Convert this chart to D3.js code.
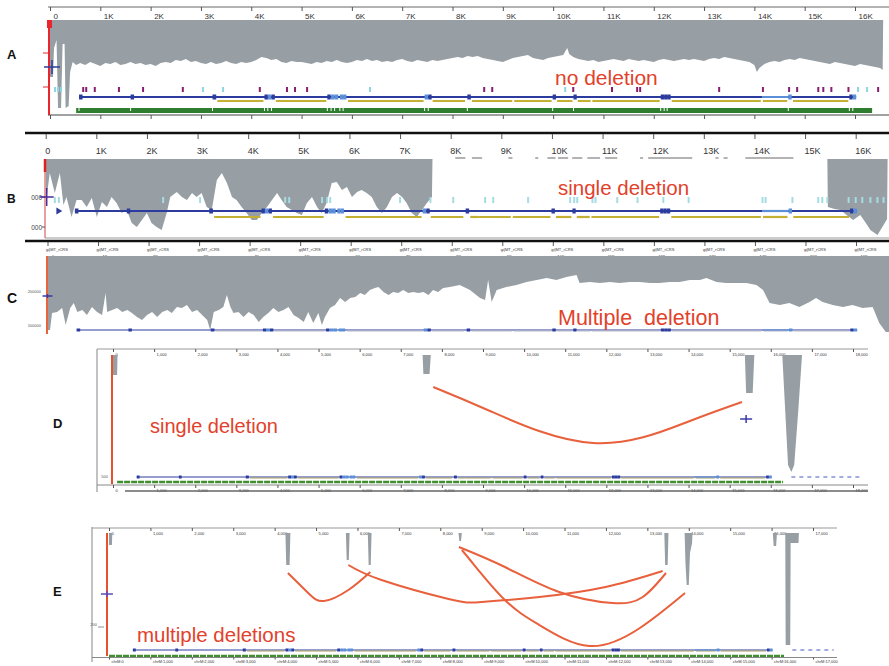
<!DOCTYPE html>
<html>
<head>
<meta charset="utf-8">
<title>mtDNA coverage</title>
<script src="https://cdn.jsdelivr.net/npm/d3@7/dist/d3.min.js"></script>
<style>
  body { margin: 0; background: #fff; }
  svg { display: block; }
</style>
</head>
<body>
<svg id="fig" width="889" height="666"></svg>
<script>
// ---- ticks ----
var kbTicks = [0, 1, 2, 3, 4, 5, 6, 7, 8, 9, 10, 11, 12, 13, 14, 15, 16];
var kbLabels = ['0', '1K', '2K', '3K', '4K', '5K', '6K', '7K', '8K', '9K', '10K', '11K', '12K', '13K', '14K', '15K', '16K'];
var dTicks = [0, 1, 2, 3, 4, 5, 6, 7, 8, 9, 10, 11, 12, 13, 14, 15, 16, 17, 18];
var eTicks = [0, 1, 2, 3, 4, 5, 6, 7, 8, 9, 10, 11, 12, 13, 14, 15, 16, 17];

// ---- coverage, [position kb, depth] ----
var covA = [[0,57],[0.06,57],[0.08,28],[0.13,20],[0.16,88],[0.22,88],[0.25,24],[0.29,24],[0.31,88],[0.37,86],[0.40,52],[0.45,42],
  [0.52,45],[0.6,43],[0.7,45],[0.8,42],[0.9,44],[1.0,46],[1.1,43],[1.2,44],[1.3,42],[1.4,45],[1.5,44],[1.6,42],[1.7,44],[1.8,43],
  [1.9,45],[2.0,44],[2.1,46],[2.2,43],[2.3,42],[2.4,43],[2.5,40],[2.6,41],[2.7,39],[2.8,42],[2.9,41],[3.0,43],[3.1,44],[3.2,42],
  [3.3,44],[3.4,43],[3.5,41],[3.6,43],[3.7,44],[3.8,42],[3.9,43],[4.0,42],[4.1,40],[4.2,37],[4.3,38],[4.4,40],[4.5,39],[4.6,42],
  [4.7,43],[4.8,41],[4.9,42],[5.0,42],[5.1,43],[5.2,44],[5.3,42],[5.4,43],[5.5,41],[5.6,42],[5.7,40],[5.8,42],[5.9,43],[6.0,42],
  [6.1,40],[6.2,41],[6.3,39],[6.4,41],[6.5,40],[6.6,42],[6.7,41],[6.8,42],[6.9,40],[7.0,39],[7.1,41],[7.2,42],[7.3,40],[7.4,41],
  [7.5,42],[7.6,40],[7.7,41],[7.8,40],[7.9,39],[8.0,38],[8.1,37],[8.2,38],[8.3,36],[8.4,37],[8.5,36],[8.6,38],[8.7,39],[8.8,40],
  [8.9,41],[9.0,42],[9.1,40],[9.2,38],[9.3,37],[9.4,36],[9.5,35],[9.6,38],[9.7,39],[9.8,40],[9.9,38],[10.0,37],[10.1,36],[10.2,35],
  [10.28,28],[10.32,34],[10.4,37],[10.5,39],[10.6,40],[10.7,41],[10.8,40],[10.9,42],[11.0,41],[11.1,40],[11.2,39],[11.3,40],
  [11.4,41],[11.5,39],[11.6,40],[11.7,41],[11.8,40],[11.9,41],[12.0,42],[12.1,40],[12.2,39],[12.3,40],[12.4,41],[12.5,40],
  [12.6,39],[12.7,40],[12.8,39],[12.9,40],[13.0,41],[13.1,39],[13.2,38],[13.3,39],[13.4,37],[13.5,38],[13.6,39],[13.7,40],
  [13.8,41],[13.9,42],[14.0,45],[14.05,52],[14.1,48],[14.2,44],[14.3,42],[14.4,41],[14.5,42],[14.6,40],[14.7,39],[14.8,40],
  [14.9,38],[15.0,39],[15.1,40],[15.2,41],[15.3,42],[15.4,43],[15.5,44],[15.6,42],[15.7,43],[15.8,44],[15.9,45],[16.0,46],
  [16.1,44],[16.2,45],[16.3,46],[16.4,47],[16.5,48],[16.55,50],[16.56,0]];

var covB = [[0,38],[0.02,38],[0.08,14],[0.18,34],[0.28,14],[0.35,46],[0.41,38],[0.51,58],[0.61,41],[0.71,41],[0.81,48],[0.91,39],
  [1.01,58],[1.11,43],[1.21,48],[1.30,38],[1.40,44],[1.50,54],[1.60,51],[1.70,64],[1.80,68],[1.90,61],[2.00,54],[2.09,64],
  [2.19,68],[2.29,71],[2.39,54],[2.46,38],[2.59,33],[2.69,38],[2.79,41],[2.89,34],[2.98,38],[3.08,34],[3.18,48],[3.28,51],
  [3.38,21],[3.48,14],[3.58,24],[3.68,38],[3.77,41],[3.87,48],[3.97,54],[4.07,61],[4.17,61],[4.27,54],[4.37,48],[4.47,41],
  [4.57,34],[4.66,41],[4.76,48],[4.86,51],[4.96,54],[5.06,56],[5.16,44],[5.26,38],[5.36,48],[5.45,54],[5.55,44],[5.65,24],
  [5.75,23],[5.85,31],[5.95,28],[6.05,38],[6.15,33],[6.24,31],[6.34,34],[6.44,38],[6.54,48],[6.64,54],[6.74,48],[6.84,38],
  [6.94,34],[7.04,38],[7.13,44],[7.23,54],[7.33,58],[7.43,51],[7.53,44],[7.63,38],[7.64,0],
  [15.44,0],[15.45,48],[15.58,50],[15.70,51],[15.82,56],[15.95,61],[16.09,56],[16.2,64],[16.29,71],[16.43,76],[16.55,66],[16.62,60],[16.63,0]];

// low-depth reads inside the deleted region, [start kb, end kb]
var covBLow = [[8.09,8.29],[8.42,8.62],[9.14,9.22],[9.67,9.73],[9.91,10.07],[10.12,10.32],[10.40,10.60],[10.70,10.95],
  [11.05,11.29],[11.74,11.80],[11.90,12.77],[13.23,13.29],[13.39,13.47],[13.82,14.77]];

var covC = [[0,74],[0.05,74],[0.09,57],[0.19,56],[0.29,52],[0.36,69],[0.45,52],[0.52,47],[0.59,56],[0.69,54],[0.78,59],[0.88,51],
  [0.98,56],[1.08,59],[1.15,37],[1.18,56],[1.28,54],[1.38,52],[1.48,56],[1.58,54],[1.67,57],[1.77,61],[1.87,64],[1.97,59],
  [2.07,56],[2.17,61],[2.27,56],[2.37,54],[2.46,57],[2.56,51],[2.66,52],[2.76,49],[2.86,56],[2.96,54],[3.06,59],[3.16,64],
  [3.22,74],[3.29,56],[3.39,54],[3.48,51],[3.55,39],[3.62,51],[3.68,57],[3.78,56],[3.88,61],[3.98,56],[4.08,59],[4.18,66],
  [4.27,61],[4.37,57],[4.47,52],[4.57,56],[4.67,54],[4.77,51],[4.87,59],[4.97,62],[5.07,66],[5.16,56],[5.26,67],[5.36,57],
  [5.43,69],[5.49,61],[5.59,52],[5.69,49],[5.79,42],[5.89,46],[5.99,42],[6.09,41],[6.19,37],[6.28,39],[6.38,34],[6.48,32],
  [6.55,31],[6.65,36],[6.75,39],[6.84,36],[6.94,37],[7.04,34],[7.14,37],[7.24,36],[7.34,37],[7.44,36],[7.54,39],[7.63,34],
  [7.73,36],[7.83,32],[7.96,31],[8.16,29],[8.36,34],[8.56,42],[8.66,44],[8.72,24],[8.79,46],[8.89,34],[9.08,31],[9.28,29],
  [9.48,26],[9.68,24],[9.88,22],[10.07,24],[10.27,21],[10.47,19],[10.53,27],[10.73,26],[10.93,27],[11.13,26],[11.32,27],
  [11.52,26],[11.72,26],[11.92,27],[12.11,27],[12.31,26],[12.51,26],[12.71,24],[12.91,24],[13.04,22],[13.24,26],[13.43,27],
  [13.63,27],[13.83,27],[14.03,29],[14.16,34],[14.29,47],[14.49,49],[14.68,47],[14.88,51],[15.08,46],[15.21,42],[15.34,46],
  [15.54,49],[15.74,51],[15.93,49],[16.13,52],[16.33,51],[16.46,67],[16.59,76],[16.66,76]];

var covD = [[0,20],[0.1,20],[0.11,0],[7.53,0],[7.55,19],[7.70,19],[7.73,0],[15.37,0],[15.40,38],[15.56,38],[15.60,0],
  [16.28,0],[16.35,55],[16.42,110],[16.50,117],[16.57,110],[16.67,55],[16.76,0]];

var covE = [[0,12],[0.07,12],[0.08,0],[4.26,0],[4.28,32],[4.36,32],[4.38,0],[5.72,0],[5.74,27],[5.79,27],[5.81,0],
  [6.25,0],[6.27,32],[6.32,32],[6.34,0],[8.44,0],[8.46,8],[8.50,8],[8.52,0],[13.41,0],[13.43,32],[13.49,32],[13.51,0],
  [13.90,0],[13.92,30],[13.95,52],[14.0,52],[14.03,20],[14.08,10],[14.09,0],[16.03,0],[16.05,13],[16.11,13],[16.13,0],
  [16.33,0],[16.34,112],[16.45,112],[16.46,10],[16.65,10],[16.66,0]];

// split-read arcs, points [kb, depth]
var arcsD = [
  [[7.79,32],[9.17,56],[11.68,88],[13.97,67],[15.30,47]]
];
var arcsE = [
  [[4.32,40],[4.81,60],[5.19,68],[5.78,57],[6.31,39]],
  [[5.78,32],[6.58,47],[8.20,66],[9.00,69],[10.39,64],[11.99,54],[13.37,38]],
  [[8.45,14],[9.56,34],[10.87,59],[12.16,70],[12.89,64],[13.45,40]],
  [[8.52,17],[8.76,29],[9.56,67],[10.39,92],[11.60,113],[12.82,95],[13.91,60]]
];

// annotation (bp): coding genes and tRNAs
var cds = [[3307,4262,'+'],[4470,5511,'+'],[5904,7445,'+'],[7586,8269,'+'],[8366,8572,'+'],[8527,9207,'+'],
  [9207,9990,'+'],[10059,10404,'+'],[10470,10766,'+'],[10760,12137,'+'],[12337,14148,'+'],[14149,14673,'-'],[14747,15887,'+']];
var trna = [[577,647,'+'],[1602,1670,'+'],[3230,3304,'+'],[4263,4331,'+'],[4329,4400,'-'],[4402,4469,'+'],[5512,5579,'+'],
  [5587,5655,'-'],[5657,5729,'-'],[5761,5826,'-'],[5826,5891,'-'],[7446,7514,'-'],[7518,7585,'+'],[8295,8364,'+'],
  [9991,10058,'+'],[10405,10469,'+'],[12138,12206,'+'],[12207,12265,'+'],[12266,12336,'+'],[14674,14742,'-'],
  [15888,15953,'+'],[15956,16023,'-']];

// variant marks (kb)
var varA = [0.66,0.72,0.89,1.37,1.85,2.64,4.17,4.71,4.87,5.11,8.63,8.79,10.40,11.17,11.67,11.73,13.30,14.17,14.69,
  14.85,15.27,15.37,15.53,15.87,16.46];
var cyanA = [0.10,0.16,0.22,3.04,3.44,6.36,10.24,16.06,16.24];
var cyanB = [0.18,0.26,2.32,3.05,4.73,4.81,5.46,5.56,5.62,7.00,7.60,8.05,8.68,8.84,9.53,10.36,10.44,10.50,10.80,10.86,
  11.29,11.69,12.20,12.70,14.16,14.22,14.75,15.26,15.34,15.44,15.86,16.0,16.13,16.29,16.43,16.55];

var FONT = 'Arial, "Liberation Sans", sans-serif';
var gray = '#979fa4';
var textRed = '#e2412b';
var arcRed = '#e8603c';
var blue = '#2c3c9e';
var lightBlue = '#5b8fd8';

var svg = d3.select('#fig').attr('font-family', FONT);

function hline(x1, x2, y, color, w) {
  return svg.append('line').attr('x1', x1).attr('x2', x2).attr('y1', y).attr('y2', y)
    .attr('stroke', color).attr('stroke-width', w);
}
function vline(x, y1, y2, color, w) {
  return svg.append('line').attr('x1', x).attr('x2', x).attr('y1', y1).attr('y2', y2)
    .attr('stroke', color).attr('stroke-width', w);
}

function coverage(x, y, data, top) {
  var area = d3.area()
    .x(function(d) { return x(d[0]) })
    .y0(top)
    .y1(function(d) { return y(d[1]) });
  svg.append('path').datum(data).attr('d', area).attr('fill', gray);
}

function axis(x, ticks, yPos, size, pad, fmt, fontSize, dx) {
  var g = svg.append('g').attr('transform', 'translate(0,' + yPos + ')')
    .call(d3.axisBottom(x).tickValues(ticks).tickFormat(fmt).tickSize(size).tickPadding(pad));
  g.select('.domain').remove();
  g.attr('font-family', FONT).attr('font-size', fontSize);
  g.selectAll('line').attr('stroke', '#555');
  g.selectAll('text').attr('text-anchor', 'start').attr('dx', dx).attr('fill', '#333');
  return g;
}

function cross(x, y, p, hw, hh, color) {
  hline(x(p[0]) - hw, x(p[0]) + hw, y(p[1]), color, 1.5);
  vline(x(p[0]), y(p[1]) - hh, y(p[1]) + hh, color, 1.5);
}

function genes(x, yLine, yCds, lw, mh, cdsColor) {
  hline(x(0.577), x(16.023), yLine, blue, lw);
  svg.selectAll(null).data(cds).enter().append('line')
    .attr('x1', function(d) { return x(d[0] / 1000) + 1 })
    .attr('x2', function(d) { return x(d[1] / 1000) - 1 })
    .attr('y1', yCds).attr('y2', yCds)
    .attr('stroke', cdsColor).attr('stroke-width', lw);
  svg.selectAll(null).data(cds.filter(function(d) { return d[2] === '-' })).enter().append('line')
    .attr('x1', function(d) { return x(d[0] / 1000) })
    .attr('x2', function(d) { return x(d[1] / 1000) })
    .attr('y1', yLine).attr('y2', yLine)
    .attr('stroke', lightBlue).attr('stroke-width', lw);
  svg.selectAll(null).data(trna).enter().append('rect')
    .attr('x', function(d) { return x(d[0] / 1000) })
    .attr('width', function(d) { return Math.max(2, x(d[1] / 1000) - x(d[0] / 1000)) })
    .attr('y', yLine - mh).attr('height', mh * 2)
    .attr('fill', function(d) { return d[2] === '-' ? lightBlue : blue });
}

function marks(x, data, y, h, color) {
  svg.selectAll(null).data(data).enter().append('rect')
    .attr('x', function(d) { return x(d) - 1 }).attr('width', 2)
    .attr('y', y).attr('height', h).attr('fill', color);
}

function arcs(x, y, data) {
  var line = d3.line().curve(d3.curveNatural)
    .x(function(d) { return x(d[0]) })
    .y(function(d) { return y(d[1]) });
  svg.selectAll(null).data(data).enter().append('path')
    .attr('d', line).attr('fill', 'none').attr('stroke', arcRed).attr('stroke-width', 2);
}

function label(txt, x, y, size, color, weight) {
  return svg.append('text').attr('x', x).attr('y', y).attr('font-size', size)
    .attr('fill', color).attr('font-weight', weight || 'normal').style('white-space', 'pre').text(txt);
}

var kbFmt = function(d, i) { return kbLabels[i] };
var bpFmt = function(d) { return d3.format(',')(d * 1000) };

// ================= A =================
var xA = d3.scaleLinear().domain([0, 16]).range([50, 855]);
var yA = d3.scaleLinear().domain([0, 95]).range([20, 115]);

hline(48, 889, 7, '#666', 1);
axis(xA, kbTicks, 7, 4, 2, kbFmt, 8, 3);
coverage(xA, yA, covA, 20);
hline(48, 889, 115, '#444', 1.2);
axis(xA, kbTicks, 115, 4, 2, function() { return '' }, 8, 0);

vline(49, 20, 115, '#e8262c', 2);
svg.append('rect').attr('x', 47).attr('y', 20).attr('width', 5).attr('height', 8).attr('fill', '#e8262c');
hline(43, 48, 53, '#e8262c', 1);
hline(43, 48, 87, '#e8262c', 1);
cross(xA, yA, [0.04, 47], 8, 7, blue);

marks(xA, varA, 87, 5, '#8a1e6e');
marks(xA, cyanA, 87, 5, '#8fd6df');
genes(xA, 97, 101, 2, 2.5, '#c4b134');
svg.append('rect').attr('x', xA(0.52)).attr('y', 108).attr('width', xA(16.34) - xA(0.52)).attr('height', 5).attr('fill', '#2f7d2f');
svg.selectAll(null).data(trna).enter().append('line')
  .attr('x1', function(d) { return xA(d[0] / 1000) }).attr('x2', function(d) { return xA(d[0] / 1000) })
  .attr('y1', 108).attr('y2', 111).attr('stroke', '#fff').attr('stroke-width', 1);

label('A', 7, 59, 13, '#111', 'bold');
label('no deletion', 555, 85, 21, textRed);

// ================= B =================
var xB = d3.scaleLinear().domain([0, 16]).range([45.7, 855.7]);
var yB = d3.scaleLinear().domain([0, 79]).range([159, 238]);

hline(25, 889, 133, '#111', 2.5);
axis(xB, kbTicks, 134, 5, 9, kbFmt, 9, -1);
svg.selectAll(null).data(covBLow).enter().append('line')
  .attr('x1', function(d) { return xB(d[0]) }).attr('x2', function(d) { return xB(d[1]) })
  .attr('y1', 158).attr('y2', 158).attr('stroke', '#b3b3b3').attr('stroke-width', 2);
coverage(xB, yB, covB, 159);
hline(45, 889, 238, '#999', 1);

vline(45, 159, 238, '#e28080', 1.5);
vline(45, 159, 172, '#e0201e', 2.5);
svg.append('clipPath').attr('id', 'clipB').append('rect').attr('x', 31).attr('y', 185).attr('width', 20).attr('height', 50);
[197, 227].forEach(function(yy) {
  svg.append('text').attr('x', 42).attr('y', yy + 2.5).attr('font-size', 6.5).attr('text-anchor', 'end')
    .attr('fill', '#444').attr('clip-path', 'url(#clipB)').text('1000');
  hline(42, 45, yy, '#555', 1);
});
cross(xB, yB, [0.02, 38], 7, 9, '#4b2a9a');

marks(xB, cyanB, 197, 6, '#a6dbe2');
genes(xB, 211, 217, 2.2, 2.5, '#c4b134');
svg.append('path').attr('d', d3.symbol(d3.symbolTriangle, 20)()).attr('fill', blue)
  .attr('transform', 'translate(' + xB(0.25) + ',211) rotate(90)');

label('B', 7, 203, 12, '#111', 'bold');
label('single deletion', 558, 195, 20.5, textRed);

// ================= C =================
var xC = d3.scaleLinear().domain([0, 16]).range([47.5, 856]);
var yC = d3.scaleLinear().domain([0, 78]).range([256, 334]);

hline(25, 889, 241, '#111', 2.5);
var axC = axis(xC, kbTicks, 242, 4, 2, function() { return 'gi|MT_rCRS' }, 4, -2);
axC.selectAll('.tick').append('text').attr('y', 16).attr('dx', 4).attr('fill', '#333')
  .attr('text-anchor', 'start').text(function(d, i) { return kbLabels[i] });
coverage(xC, yC, covC, 256);
vline(47, 256, 334, '#e8643c', 2);
cross(xC, yC, [0, 40], 5, 2, '#3b3aa8');
[[291, '200000'], [325, '100000']].forEach(function(t) {
  svg.append('text').attr('x', 41).attr('y', t[0] + 1.5).attr('font-size', 4).attr('text-anchor', 'end')
    .attr('fill', '#555').text(t[1]);
});
genes(xC, 330, 331, 1, 1.5, '#b9b7c9');

label('C', 7, 303, 14, '#111', 'bold');
label('Multiple  deletion', 558, 325, 21.5, textRed);

// ================= D =================
var xD = d3.scaleLinear().domain([0, 18]).range([113, 853]);
var yD = d3.scaleLinear().domain([0, 129]).range([355, 484]);

vline(97, 349, 492, '#999', 1.2);
hline(97, 868, 349, '#999', 1);
axis(xD, dTicks, 349, 3, 1, bpFmt, 4, 2);
coverage(xD, yD, covD, 355);
vline(112, 355, 484, '#e8502e', 2);
arcs(xD, yD, arcsD);
cross(xD, yD, [15.40, 64], 6, 4, '#3b3aa8');

genes(xD, 477, 478, 1, 1.5, '#a8a060');
svg.append('line').attr('x1', xD(16.5)).attr('x2', xD(18.2)).attr('y1', 477).attr('y2', 477)
  .attr('stroke', '#4a58c8').attr('stroke-width', 1.2).attr('stroke-dasharray', '4,4');
svg.append('line').attr('x1', xD(0.1)).attr('x2', xD(16.3)).attr('y1', 482).attr('y2', 482)
  .attr('stroke', '#3f8f2f').attr('stroke-width', 2.5).attr('stroke-dasharray', '6,1');
hline(97, 868, 485, '#888', 1);
axis(xD, dTicks, 485, 3, 1, bpFmt, 4, 2);
hline(125, 868, 491, '#666', 1.5);
svg.append('text').attr('x', 108).attr('y', 478).attr('font-size', 4).attr('text-anchor', 'end')
  .attr('fill', '#555').text('500');

label('D', 53, 428, 13, '#111', 'bold');
label('single deletion', 150, 433, 20, textRed);

// ================= E =================
var xE = d3.scaleLinear().domain([0, 17]).range([109, 813]);
var yE = d3.scaleLinear().domain([0, 123]).range([533, 656]);

vline(92, 527, 662, '#999', 1.2);
hline(92, 837, 528, '#999', 1);
axis(xE, eTicks, 528, 3, 1, bpFmt, 4, 2);
coverage(xE, yE, covE, 533);
vline(107, 533, 656, '#e8502e', 2);
arcs(xE, yE, arcsE);
cross(xE, yE, [-0.05, 61], 6, 3, '#5a4ab8');
hline(98, 104, 627, '#777', 0.8);
svg.append('text').attr('x', 97).attr('y', 626).attr('font-size', 4).attr('text-anchor', 'end')
  .attr('fill', '#555').text('200');

genes(xE, 650, 651, 1, 1.5, '#a8a060');
svg.append('line').attr('x1', xE(16.5)).attr('x2', xE(17.5)).attr('y1', 650).attr('y2', 650)
  .attr('stroke', '#4a58c8').attr('stroke-width', 1.2).attr('stroke-dasharray', '4,4');
svg.append('line').attr('x1', xE(0)).attr('x2', xE(16.3)).attr('y1', 656).attr('y2', 656)
  .attr('stroke', '#3f8f2f').attr('stroke-width', 2.5).attr('stroke-dasharray', '6,1');
hline(92, 837, 657.5, '#888', 1);
axis(xE, eTicks, 657.5, 2, 1, function(d) { return 'chrM:' + bpFmt(d) }, 4, 2);

label('E', 53, 596, 13, '#111', 'bold');
label('multiple deletions', 137, 642, 20.5, textRed);
</script>
</body>
</html>
